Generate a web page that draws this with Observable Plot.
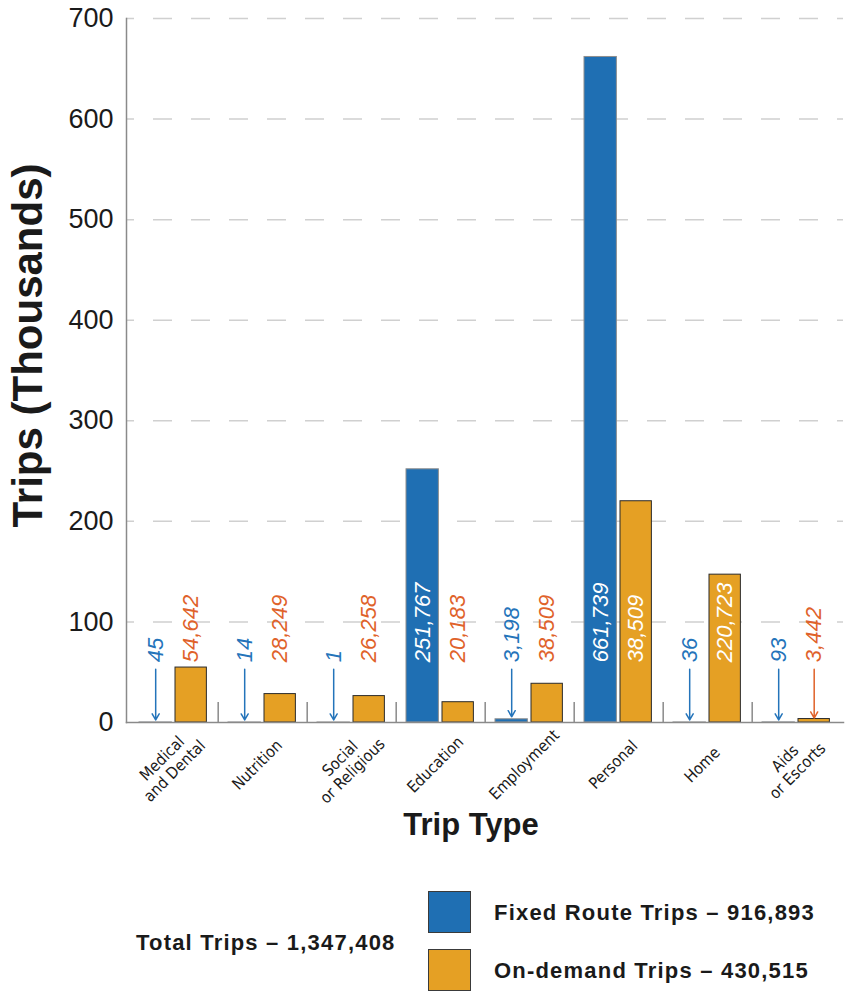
<!DOCTYPE html>
<html>
<head>
<meta charset="utf-8">
<script src="https://cdn.jsdelivr.net/npm/d3@7"></script>
<script src="https://cdn.jsdelivr.net/npm/@observablehq/plot@0.6"></script>
<style>
  html, body { margin: 0; padding: 0; background: #fff; }
  #wrap { position: relative; width: 845px; height: 992px; overflow: hidden; font-family: "Liberation Sans", Arial, sans-serif; color: #1a1a1a; }
  #chart svg { display: block; }
  .lg { position: absolute; font-weight: bold; font-size: 22px; letter-spacing: 1.2px; white-space: nowrap; line-height: 1; transform: translateY(-50%); }
  .sw { position: absolute; width: 43px; height: 42px; box-sizing: border-box; border: 1.5px solid #3a3a3a; }
</style>
</head>
<body>
<div id="wrap">
  <div id="chart"></div>
  <div id="legend"></div>
</div>
<script>
// ---- data (values in thousands of trips) ----
const categories = ["Medical\nand Dental", "Nutrition", "Social\nor Religious", "Education", "Employment", "Personal", "Home", "Aids\nor Escorts"];
const fixedValues    = [0.045, 0.014, 0.001, 251.767, 3.198, 661.739, 0.036, 0.093];
const onDemandValues = [54.642, 28.249, 26.258, 20.183, 38.509, 220.0, 147.0, 3.442];
const fixedLabels    = ["45", "14", "1", "251,767", "3,198", "661,739", "36", "93"];
const onDemandLabels = ["54,642", "28,249", "26,258", "20,183", "38,509", "38,509", "220,723", "3,442"];
const yTicks = [0, 100, 200, 300, 400, 500, 600, 700];
const seriesNames  = ["Fixed Route Trips", "On-demand Trips"];
const seriesTotals = ["916,893", "430,515"];
const totalLabel = "Total Trips – 1,347,408";
const seriesColors = ["#1f6fb3", "#e5a024"];
const labelColors  = ["#2474ba", "#e0622a"];

// ---- layout constants ----
const W = 845, H = 860;
const mL = 126, mR = 2, mT = 18, mB = 138;
const bw = (W - mL - mR) / categories.length;
const labelBase = 60;   // label start height (data units)
const arrowTop = 53;    // arrow start height (data units)

const fixed = categories.map((c, i) => ({cat: c, value: fixedValues[i], label: fixedLabels[i]}));
const onDemand = categories.map((c, i) => ({cat: c, value: onDemandValues[i], label: onDemandLabels[i]}));

const inside = d => d.value >= 100;
const small = d => d.value < 10;

const textFont = "Liberation Sans, Arial, sans-serif";

const chart = Plot.plot({
  width: W, height: H,
  marginLeft: mL, marginRight: mR, marginTop: mT, marginBottom: mB,
  style: {fontFamily: textFont, color: "#1a1a1a", background: "#fff"},
  x: {type: "band", domain: categories, padding: 0, axis: null},
  y: {domain: [0, 700], axis: null},
  marks: [
    // dashed gridlines
    Plot.ruleY(yTicks.filter(d => d > 0), {stroke: "#d0d0d0", strokeWidth: 1.5, strokeDasharray: "19 19", strokeDashoffset: 11}),
    // bars
    Plot.barY(fixed, {x: "cat", y: "value", fill: seriesColors[0], stroke: "#8e8e8e", strokeWidth: 1, insetLeft: 10, insetRight: bw - 43}),
    Plot.barY(onDemand, {x: "cat", y: "value", fill: seriesColors[1], stroke: "#2b2b2b", strokeWidth: 1, insetLeft: 46, insetRight: bw - 78}),
    // axes lines
    Plot.frame({anchor: "left", stroke: "#8a8a8a", strokeWidth: 1.5}),
    Plot.frame({anchor: "bottom", stroke: "#8a8a8a", strokeWidth: 1.5}),
    // group separators
    Plot.ruleX(categories.slice(1), {x: d => d, y1: 0, y2: 20, dx: -bw / 2, stroke: "#8a8a8a", strokeWidth: 1.5}),
    // arrows for tiny values
    Plot.arrow(fixed.filter(small), {x1: "cat", x2: "cat", y1: () => arrowTop, y2: "value", dx: 26.5 - bw / 2, stroke: labelColors[0], strokeWidth: 1.5, headLength: 7, insetEnd: 2.5}),
    Plot.arrow(onDemand.filter(small), {x1: "cat", x2: "cat", y1: () => arrowTop, y2: "value", dx: 62 - bw / 2, stroke: labelColors[1], strokeWidth: 1.5, headLength: 7, insetEnd: 1}),
    // value labels
    Plot.text(fixed, {x: "cat", y: () => labelBase, text: "label", dx: 26.5 - bw / 2, rotate: -90, textAnchor: "start", lineAnchor: "middle",
      fill: d => inside(d) ? "#ffffff" : labelColors[0], fontSize: 22, fontStyle: "italic"}),
    Plot.text(onDemand, {x: "cat", y: () => labelBase, text: "label", dx: 62 - bw / 2, rotate: -90, textAnchor: "start", lineAnchor: "middle",
      fill: d => inside(d) ? "#ffffff" : labelColors[1], fontSize: 22, fontStyle: "italic"}),
    // y tick labels
    Plot.text(yTicks, {y: d => d, text: d => String(d), frameAnchor: "left", dx: -13, textAnchor: "end", lineAnchor: "middle", fontSize: 27, fill: "#1a1a1a"}),
    // category labels
    Plot.text(categories, {x: d => d, text: d => d, frameAnchor: "bottom", dy: 42, dx: -6, rotate: -45, textAnchor: "middle", lineAnchor: "middle",
      lineHeight: 1.1, fontSize: 16, fontFamily: "Liberation Sans Narrow, DejaVu Sans Condensed, Arial, sans-serif", fill: "#1a1a1a"}),
    // axis titles
    Plot.text(["Trips (Thousands)"], {frameAnchor: "left", dx: -98, dy: -25, rotate: -90, textAnchor: "middle", lineAnchor: "middle",
      fontSize: 42, fontWeight: "bold", fill: "#1a1a1a"}),
    Plot.text(["Trip Type"], {frameAnchor: "bottom", dy: 103, dx: -14, textAnchor: "middle", lineAnchor: "middle",
      fontSize: 31, fontWeight: "bold", fill: "#1a1a1a"})
  ]
});
document.getElementById("chart").appendChild(chart);

// ---- legend (HTML below the SVG) ----
const wrap = document.getElementById("wrap");
function add(cls, css, text) {
  const el = document.createElement("div");
  el.className = cls;
  Object.assign(el.style, css);
  if (text != null) el.textContent = text;
  wrap.appendChild(el);
  return el;
}
add("lg", {left: "136px", top: "943px"}, totalLabel);
seriesNames.forEach((name, i) => {
  const top = 891 + i * 58;
  add("sw", {left: "428px", top: top + "px", background: seriesColors[i]});
  add("lg", {left: "494px", top: (top + 22) + "px"}, name + " – " + seriesTotals[i]);
});
</script>
</body>
</html>
